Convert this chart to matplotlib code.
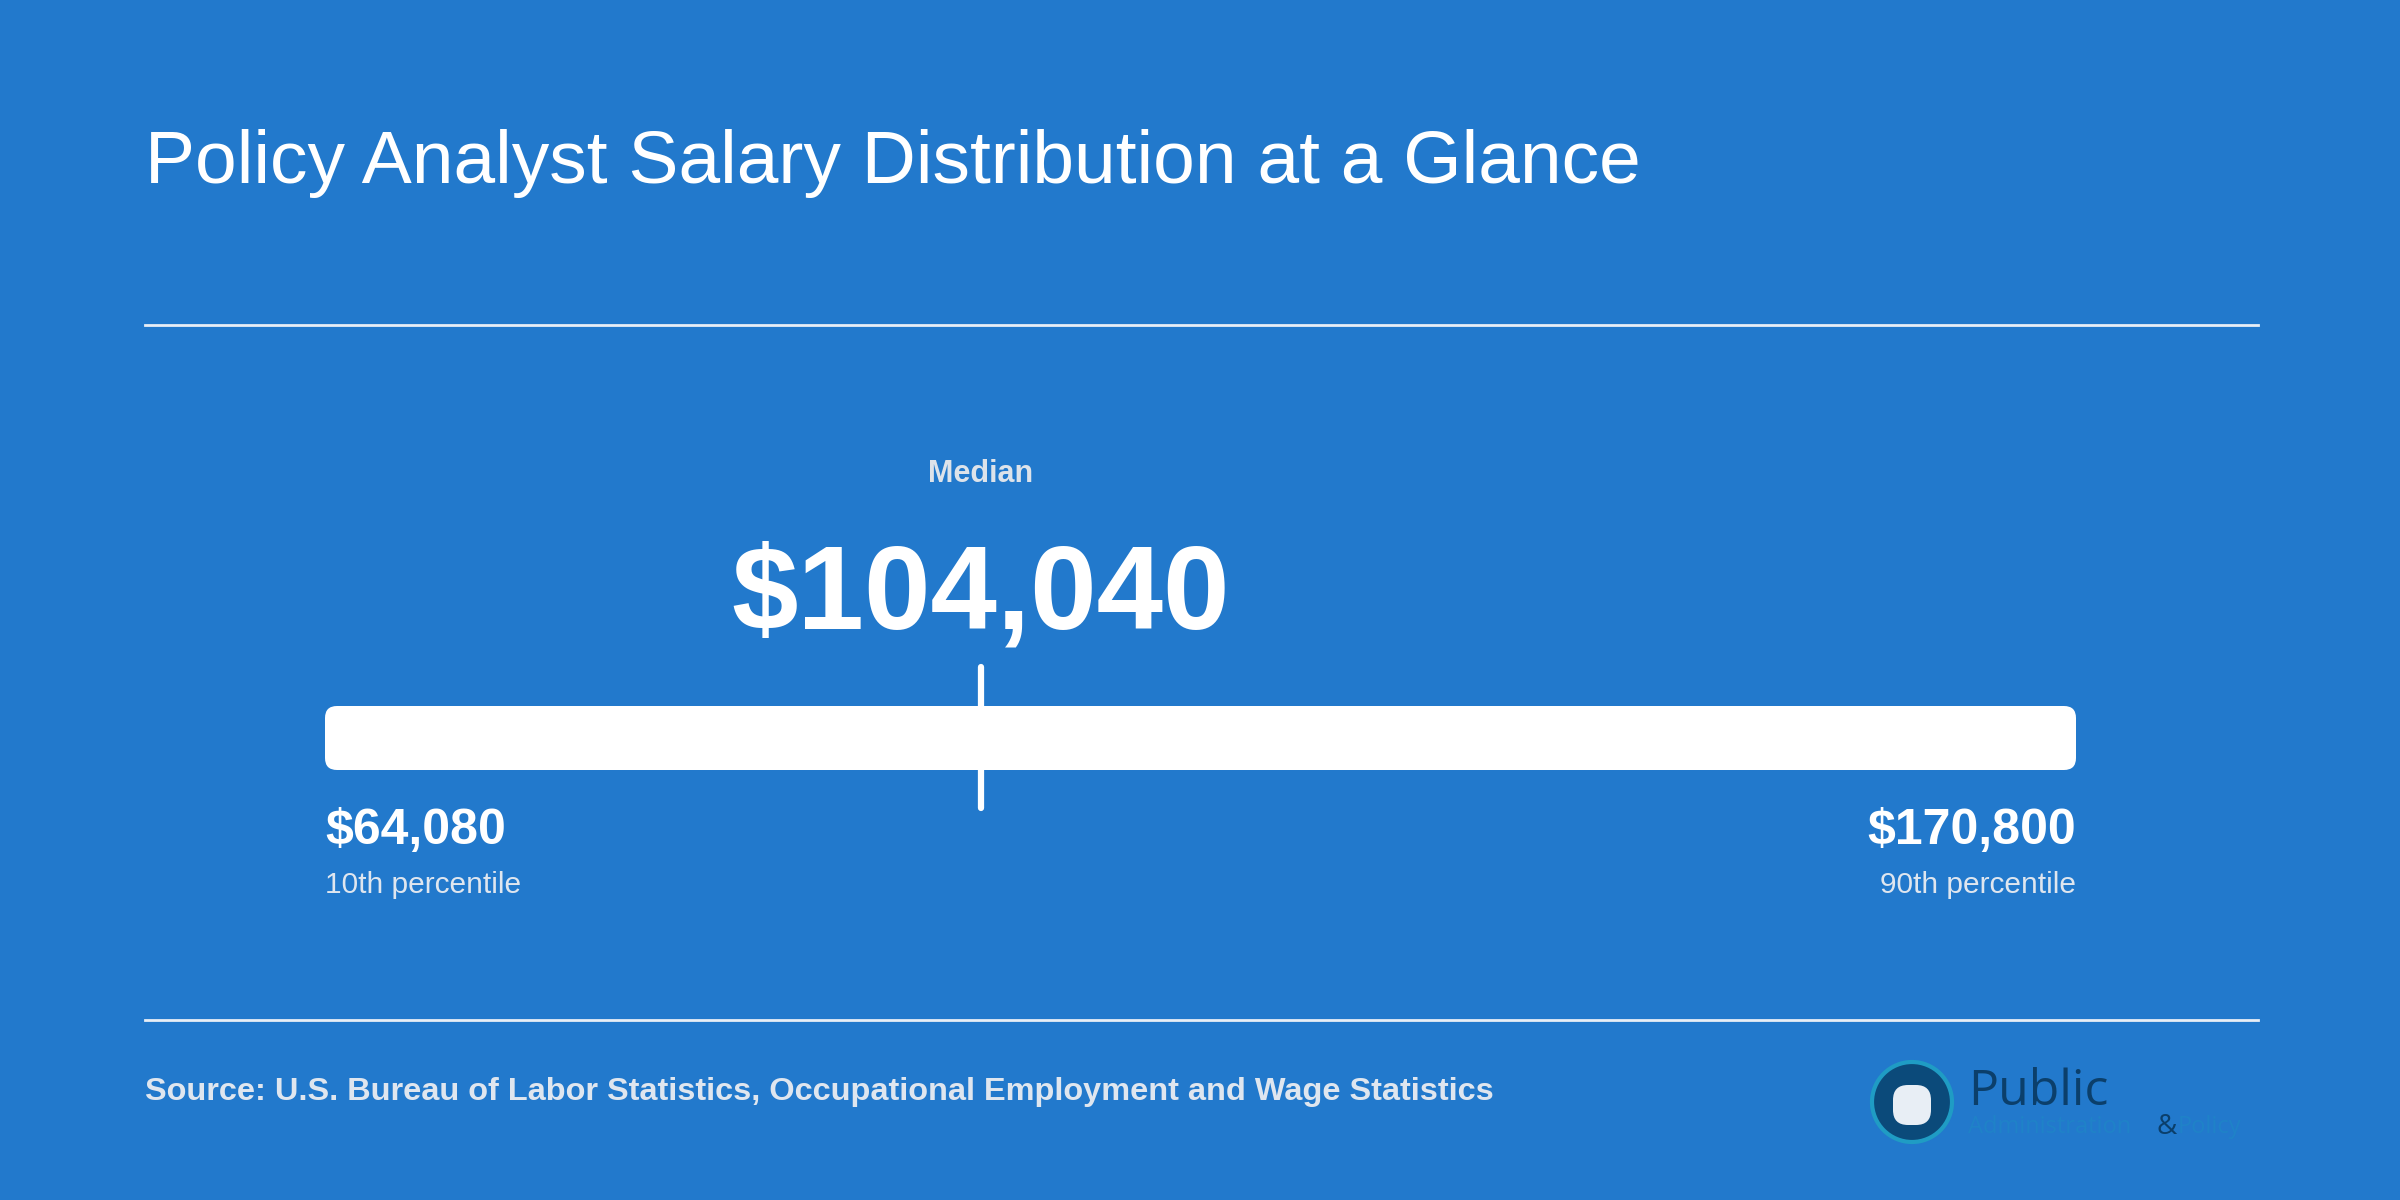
import matplotlib
matplotlib.use("Agg")
import matplotlib.pyplot as plt
from matplotlib.patches import FancyBboxPatch, Circle

title = "Policy Analyst Salary Distribution at a Glance"
p10, median, p90 = 64080, 104040, 170800
p10_label, p90_label = "10th percentile", "90th percentile"
source = "Source: U.S. Bureau of Labor Statistics, Occupational Employment and Wage Statistics"

BG = "#2279CC"
plt.rcParams['font.family'] = ['Liberation Sans', 'DejaVu Sans']
fig = plt.figure(figsize=(24, 12), dpi=100, facecolor=BG)
ax = fig.add_axes([0, 0, 1, 1]); ax.set_xlim(0, 2400); ax.set_ylim(1200, 0); ax.axis('off')

ax.text(145, 164, title, color='white', fontsize=54, va='center', ha='left')
ax.plot([145, 2258], [325, 325], color='#e8eef6', lw=2)
ax.plot([145, 2258], [1020, 1020], color='#e8eef6', lw=2)
ax.text(145, 1092, source, color='#dfe6ef', fontsize=23.4, fontweight='bold', va='center')

# bar axis in salary units
bx = fig.add_axes([325/2400, 0, (2076-325)/2400, 1]); bx.set_xlim(p10, p90); bx.set_ylim(1200, 0); bx.axis('off')
w = p90 - p10
upp = w / 1751.0
bx.add_patch(FancyBboxPatch((p10, 706), w, 64, boxstyle=f"round,pad=0,rounding_size={12*upp}",
                            mutation_aspect=1/upp, fc='white', ec='none'))
bx.plot([median, median], [667, 808], color='white', lw=4.5, solid_capstyle='round')
bx.text(median, 474, "Median", color='#dde3ea', fontsize=22, fontweight='bold', ha='center', va='center')
bx.text(median, 598, f"${median:,}", color='white', fontsize=86, fontweight='bold', ha='center', va='center')
bx.text(p10, 831, f"${p10:,}", color='white', fontsize=36, fontweight='bold', ha='left', va='center')
bx.text(p10, 885, p10_label, color='#dfe6ef', fontsize=21.5, ha='left', va='center')
bx.text(p90, 831, f"${p90:,}", color='white', fontsize=36, fontweight='bold', ha='right', va='center')
bx.text(p90, 885, p90_label, color='#dfe6ef', fontsize=21.5, ha='right', va='center')

# logo
ax.add_patch(Circle((1912, 1102), 40, fc='#0b4a7a', ec='#1f9cc4', lw=3))
ax.add_patch(FancyBboxPatch((1893, 1085), 38, 40, boxstyle="round,pad=0,rounding_size=15", fc='#e8eef5', ec='none'))
ax.text(1968, 1092, "Public", color='#0b3f6b', fontsize=36, family='Open Sans', va='center')
ax.text(1968, 1127, "Administration", color='#1f82c8', fontsize=17, family='Open Sans', va='center')
ax.text(2157, 1127, "&", color='#0b3f6b', fontsize=20, family='Open Sans', va='center')
ax.text(2178, 1127, "Policy", color='#1f82c8', fontsize=17, family='Open Sans', va='center')

fig.savefig("out.png", dpi=100, facecolor=BG)
